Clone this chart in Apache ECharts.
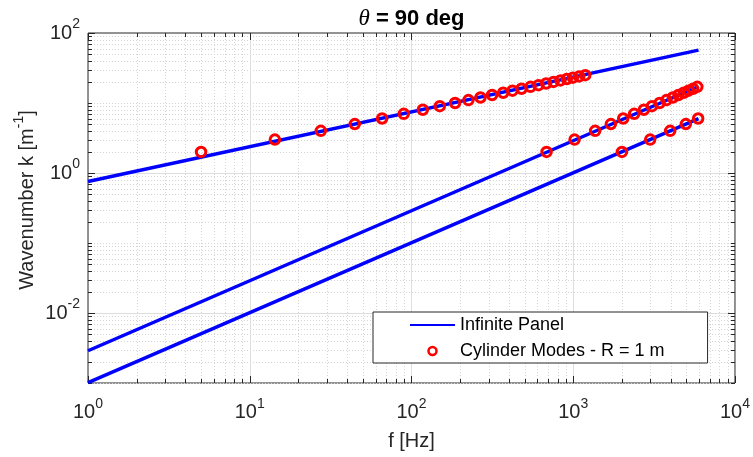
<!DOCTYPE html>
<html><head><meta charset="utf-8">
<script src="https://cdn.jsdelivr.net/npm/echarts@6/dist/echarts.min.js"></script>
<style>html,body{margin:0;padding:0;background:#fff}#c{width:753px;height:457px}</style>
</head><body><div id="c"></div>
<script>
// ---- data ----
// Infinite panel curves (straight in log-log; endpoints)
const panelUpper = [[1, 0.757], [5950, 57.0]];
const panelMiddle = [[1, 0.00289], [5950, 17.2]];
const panelLower = [[1, 0.00101], [5950, 6.0]];

// Cylinder modes (R = 1 m)
const modesUpperF = [5.0, 14.3, 27.5, 44.6, 65.8, 89.6, 117.5, 149.6, 186, 225, 267, 315, 369, 421, 479, 544, 610, 680, 755, 834, 913, 995, 1088, 1186];
const modesUpperK = [2, 3, 4, 5, 6, 7, 8, 9, 10, 11, 12, 13, 14, 15, 16, 17, 18, 19, 20, 21, 22, 23, 24, 25];
const modesMiddleF = [684, 1019, 1366, 1709, 2037, 2382, 2734, 3066, 3420, 3770, 4130, 4470, 4820, 5160, 5510, 5850];
const modesMiddleK = [2, 3, 4, 5, 6, 7, 8, 9, 10, 11, 12, 13, 14, 15, 16, 17];
const modesLowerF = [2000, 2990, 3975, 4966, 5920];
const modesLowerK = [2, 3, 4, 5, 6];

// axes / ticks
const xMajorTicks = [1, 10, 100, 1000, 10000];
const yMajorTicks = [0.01, 1, 100];
const xDecades = [1, 10, 100, 1000];
const yDecades = [0.001, 0.01, 0.1, 1, 10];
const minorMultipliers = [1, 2, 3, 4, 5, 6, 7, 8, 9];

const F = "'Liberation Sans', Arial, Helvetica, sans-serif";
const TXT = '#262626';

function minorList(decades, majors) {
  const out = [];
  decades.forEach(d => minorMultipliers.forEach(m => {
    const v = +(m * d).toPrecision(6);
    if (!majors.some(M => Math.abs(M - v) / M < 1e-9)) out.push(v);
  }));
  return out;
}
const xMinorTicks = minorList(xDecades, xMajorTicks);
const yMinorTicks = minorList(yDecades, yMajorTicks);

const zip = (a, b) => a.map((v, i) => [v, b[i]]);

function supLabel(v) {
  const e = Math.round(Math.log10(v));
  return '{b|10}{s|' + e + '}';
}
const richTick = {
  b: { fontSize: 20, fontFamily: F, color: TXT },
  s: { fontSize: 14, fontFamily: F, color: TXT, padding: [0, 0, 17, 0] }
};

function renderGrid(params, api) {
  const cs = params.coordSys;
  const L = cs.x, R = cs.x + cs.width, T = cs.y, B = cs.y + cs.height;
  const ch = [];
  const majC = '#dedede', minC = '#d4d4d4';
  const px = v => Math.round(api.coord([v, 1])[0]) + 0.5;
  const py = v => Math.round(api.coord([1, v])[1]) + 0.5;
  const ln = (x1, y1, x2, y2, st) => ch.push({ type: 'line', shape: { x1, y1, x2, y2 }, style: st });
  const minStyle = { stroke: minC, lineWidth: 1, lineDash: [1, 2] };
  const majStyle = { stroke: majC, lineWidth: 1 };
  const tickStyle = { stroke: TXT, lineWidth: 1 };
  xMinorTicks.forEach(v => { const x = px(v); ln(x, T, x, B, minStyle); });
  yMinorTicks.forEach(v => { const y = py(v); ln(L, y, R, y, minStyle); });
  xMajorTicks.forEach(v => { const x = px(v); if (x > L + 2 && x < R - 2) ln(x, T, x, B, majStyle); });
  yMajorTicks.forEach(v => { const y = py(v); if (y > T + 2 && y < B - 2) ln(L, y, R, y, majStyle); });
  const lMaj = 7, lMin = 4;
  xMinorTicks.forEach(v => { const x = px(v); ln(x, B, x, B - lMin, tickStyle); ln(x, T, x, T + lMin, tickStyle); });
  xMajorTicks.forEach(v => { const x = px(v); ln(x, B, x, B - lMaj, tickStyle); ln(x, T, x, T + lMaj, tickStyle); });
  yMinorTicks.forEach(v => { const y = py(v); ln(L, y, L + lMin, y, tickStyle); ln(R, y, R - lMin, y, tickStyle); });
  yMajorTicks.forEach(v => { const y = py(v); ln(L, y, L + lMaj, y, tickStyle); ln(R, y, R - lMaj, y, tickStyle); });
  return { type: 'group', children: ch };
}

const chart = echarts.init(document.getElementById('c'), null, { renderer: 'canvas' });
const lineStyle = { color: '#0000ff', width: 3.5 };
const markerStyle = { color: 'rgba(255,0,0,0)', borderColor: '#ff0000', borderWidth: 3, opacity: 1 };
const lineSeries = (d) => ({
  type: 'line', name: 'Infinite Panel', data: d, symbol: 'none', showSymbol: false,
  lineStyle, itemStyle: { color: '#0000ff' }, z: 3, silent: true
});
const markSeries = (f, k) => ({
  type: 'scatter', name: 'Cylinder Modes - R = 1 m', data: zip(f, k), symbol: 'circle', symbolSize: 9.5,
  itemStyle: markerStyle, z: 4, silent: true
});

chart.setOption({
  animation: false,
  backgroundColor: '#ffffff',
  grid: { left: 88, top: 33, right: 18, bottom: 74, show: true, borderColor: TXT, borderWidth: 1, backgroundColor: '#fff' },
  graphic: [{
    type: 'text', x: 411.5, y: 19, z: 10,
    style: {
      text: '{t|θ}{b| = 90 deg}', textAlign: 'center', textVerticalAlign: 'middle',
      rich: {
        t: { fontSize: 23, fontFamily: "'Liberation Serif', 'DejaVu Serif', serif", fontStyle: 'italic', fill: '#000' },
        b: { fontSize: 22, fontFamily: F, fontWeight: 'bold', fill: '#000' }
      }
    }
  }, {
    type: 'text', x: 27, y: 200, rotation: Math.PI / 2, z: 10,
    style: {
      text: '{a|Wavenumber k [m}{s|-1}{a|]}', textAlign: 'center', textVerticalAlign: 'middle',
      rich: {
        a: { fontSize: 20, fontFamily: F, fill: TXT },
        s: { fontSize: 14, fontFamily: F, fill: TXT, padding: [0, 0, 16, 0] }
      }
    }
  }],
  legend: {
    orient: 'vertical', left: 373, top: 312, itemWidth: 45, itemHeight: 8, itemGap: 6,
    padding: [3, 43, 2, 36], backgroundColor: '#fff', borderColor: TXT, borderWidth: 1, borderRadius: 0,
    selectedMode: false, z: 10,
    textStyle: { fontSize: 18, fontFamily: F, color: '#000', lineHeight: 20 },
    data: [
      { name: 'Infinite Panel', itemStyle: { opacity: 0 } },
      { name: 'Cylinder Modes - R = 1 m', itemStyle: { color: 'rgba(255,0,0,0)', borderColor: '#ff0000', borderWidth: 2.5 } }
    ]
  },
  xAxis: {
    type: 'log', logBase: 10, min: 1, max: 10000, splitNumber: 4,
    axisLine: { show: false }, axisTick: { show: false }, splitLine: { show: false },
    axisLabel: { formatter: supLabel, rich: richTick, margin: 14, color: TXT },
    name: 'f [Hz]', nameLocation: 'middle', nameGap: 48,
    nameTextStyle: { fontSize: 20, fontFamily: F, color: TXT }
  },
  yAxis: {
    type: 'log', logBase: 10, min: 0.001, max: 100, splitNumber: 5,
    axisLine: { show: false }, axisTick: { show: false }, splitLine: { show: false },
    axisLabel: {
      formatter: v => (Math.round(Math.log10(v)) % 2 === 0 ? supLabel(v) : ''),
      rich: richTick, margin: 8, color: TXT
    }
  },
  series: [
    { type: 'custom', coordinateSystem: 'cartesian2d', data: [[1, 1]], renderItem: renderGrid, z: 1, silent: true, clip: false },
    lineSeries(panelUpper), lineSeries(panelMiddle), lineSeries(panelLower),
    markSeries(modesUpperF, modesUpperK), markSeries(modesMiddleF, modesMiddleK), markSeries(modesLowerF, modesLowerK)
  ]
});
</script>
</body></html>
